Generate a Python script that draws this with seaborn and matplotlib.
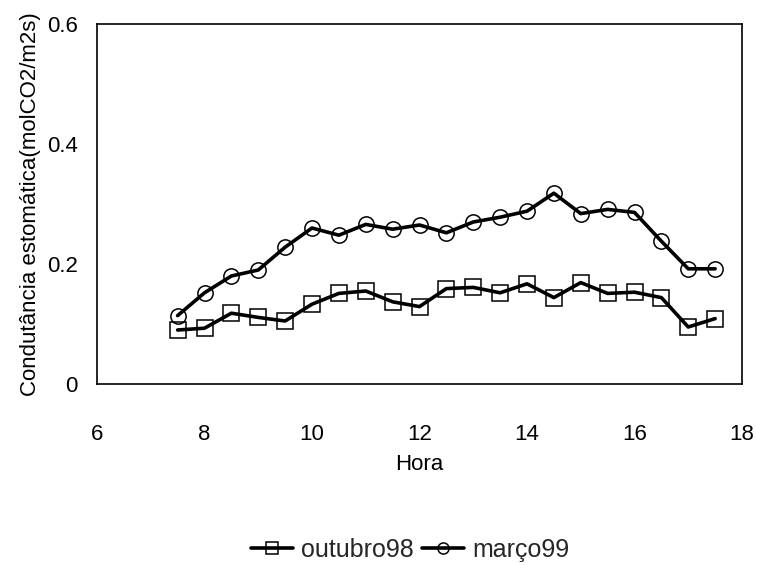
import matplotlib
matplotlib.use("Agg")
import matplotlib.pyplot as plt
import seaborn as sns
import pandas as pd

hora = [7.5, 8, 8.5, 9, 9.5, 10, 10.5, 11, 11.5, 12, 12.5, 13, 13.5, 14, 14.5,
        15, 15.5, 16, 16.5, 17, 17.5]
outubro98 = [0.090, 0.093, 0.118, 0.111, 0.105, 0.133, 0.151, 0.155, 0.137, 0.129,
             0.159, 0.161, 0.152, 0.167, 0.144, 0.169, 0.151, 0.153, 0.144, 0.095, 0.109]
marco99 = [0.114, 0.152, 0.180, 0.190, 0.228, 0.260, 0.248, 0.266, 0.258, 0.265,
           0.252, 0.270, 0.278, 0.288, 0.318, 0.284, 0.291, 0.286, 0.238, 0.192, 0.192]
x_ticks = [6, 8, 10, 12, 14, 16, 18]
y_ticks = [0, 0.2, 0.4, 0.6]
y_tick_labels = ["0", "0.2", "0.4", "0.6"]

sns.set_theme(style="white")
plt.rcParams['font.family'] = ['Liberation Sans', 'DejaVu Sans']

fig = plt.figure(figsize=(7.57, 5.65), dpi=100)
ax = fig.add_axes([97/757, 1-384/565, 645/757, 360/565])

df = pd.DataFrame({"Hora": hora, "outubro98": outubro98, "março99": marco99})
sns.lineplot(data=df, x="Hora", y="outubro98", ax=ax, color="black", lw=2.6,
             marker="s", markersize=11, markerfacecolor="none",
             markeredgecolor="black", markeredgewidth=1.1, label="outubro98")
sns.lineplot(data=df, x="Hora", y="março99", ax=ax, color="black", lw=2.6,
             marker="o", markersize=11, markerfacecolor="none",
             markeredgecolor="black", markeredgewidth=1.1, label="março99")

ax.set_xlim(6, 18)
ax.set_ylim(0, 0.6)
ax.set_xticks(x_ticks)
ax.set_yticks(y_ticks)
ax.set_yticklabels(y_tick_labels)
ax.tick_params(axis="both", labelsize=16, colors="black", length=0)
ax.tick_params(axis="x", pad=29)
ax.tick_params(axis="y", pad=14)
ax.set_xlabel("Hora", fontsize=16, color="black", labelpad=6)
ax.set_ylabel("Condutância estomática(molCO2/m2s)", fontsize=16, color="black", labelpad=4)
for s in ax.spines.values():
    s.set_color("black")
    s.set_linewidth(1.2)

h, l = ax.get_legend_handles_labels()
ax.get_legend().remove()
leg = fig.legend(h, l, loc="center", bbox_to_anchor=(410/757, 1-550/565), ncol=2,
                 frameon=False, fontsize=18, handlelength=1.7, handletextpad=0.32,
                 columnspacing=0.32, borderpad=0, borderaxespad=0)
for lh in leg.legend_handles:
    lh.set_markersize(8)

fig.savefig("out.png", dpi=100)
